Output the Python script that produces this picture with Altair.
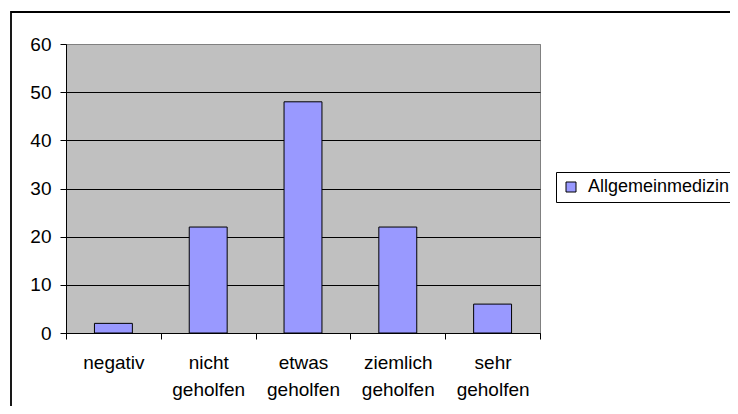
import altair as alt
import pandas as pd

categories = ["negativ", "nicht geholfen", "etwas geholfen", "ziemlich geholfen", "sehr geholfen"]
values = [2, 22, 48, 22, 6]
series_name = "Allgemeinmedizin"

df = pd.DataFrame({"cat": categories, "val": values, "series": [series_name] * len(categories)})
frame_df = pd.DataFrame({"a": [0]})

FONT = "Liberation Sans"
FS = 19

frame = alt.Chart(frame_df).mark_rect(fill="white", fillOpacity=0, stroke="black", strokeWidth=1.8).encode(
    x=alt.value(-55), x2=alt.value(720), y=alt.value(-32), y2=alt.value(420)
)

bars = alt.Chart(df).mark_bar(
    width=alt.RelativeBandSize(0.4), stroke="black", strokeWidth=1
).encode(
    x=alt.X("cat:N", sort=categories, title=None,
            scale=alt.Scale(paddingInner=0, paddingOuter=0),
            axis=alt.Axis(labelAngle=0, tickBand="extent", labelExpr="split(datum.label, ' ')",
                          labelFont=FONT, labelFontSize=FS, labelColor="black",
                          labelLineHeight=27, labelBaseline="top", labelPadding=14,
                          domainColor="black", tickColor="black", tickSize=6, grid=False)),
    y=alt.Y("val:Q", title=None,
            scale=alt.Scale(domain=[0, 60], nice=False),
            axis=alt.Axis(values=[0, 10, 20, 30, 40, 50, 60], labelFont=FONT, labelFontSize=FS,
                          labelColor="black", labelPadding=9, domainColor="black",
                          tickColor="black", tickSize=6,
                          gridColor={"condition": {"test": "datum.value === 60", "value": "#808080"},
                                     "value": "#000000"},
                          gridWidth=1)),
    color=alt.Color("series:N", title=None,
                    scale=alt.Scale(domain=[series_name], range=["#9999FF"]),
                    legend=alt.Legend(orient="none", legendX=490, legendY=128,
                                      strokeColor="black", fillColor="white", padding=6,
                                      symbolType="square", symbolSize=100,
                                      symbolStrokeColor="black", symbolStrokeWidth=1,
                                      labelFont=FONT, labelFontSize=18, labelColor="black",
                                      labelOffset=8)),
)

chart = alt.layer(frame, bars).properties(
    width=474, height=289,
    autosize=alt.AutoSizeParams(type="none"),
    padding={"left": 58, "top": 36, "right": 190, "bottom": 73},
    background="white",
).configure_view(fill="#C0C0C0", stroke="#808080", strokeWidth=1)

chart.save("out.html", embed_options={"renderer": "svg", "actions": False})
